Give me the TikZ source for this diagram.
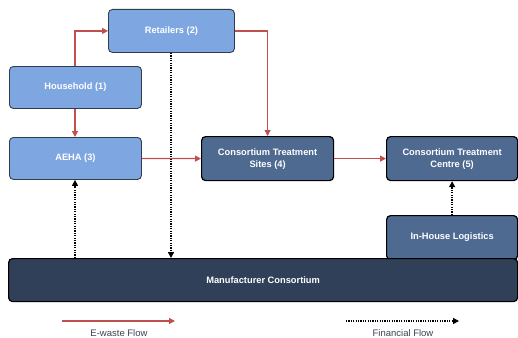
\documentclass[tikz,border=0pt]{standalone}
\usepackage{fontspec}
\setmainfont{Liberation Sans}
\usetikzlibrary{arrows.meta}
\definecolor{lightbox}{HTML}{7EA6E0}
\definecolor{lightedge}{HTML}{2F3D4F}
\definecolor{midbox}{HTML}{4E6A90}
\definecolor{darkbox}{HTML}{2F4058}
\definecolor{flowred}{HTML}{C0504D}
\definecolor{legendgray}{HTML}{3A4250}
\tikzset{
  box/.style={draw, rounded corners=4pt, text=white, font=\fontsize{9.3}{12}\selectfont\bfseries, align=center, inner sep=0pt, anchor=north west},
  lightnode/.style={box, fill=lightbox, draw=lightedge, line width=0.9pt},
  darknode/.style={box, fill=midbox, draw=black, line width=1.2pt},
  basenode/.style={box, fill=darkbox, draw=black, line width=1.2pt},
  ewaste/.style={draw=flowred, line width=1.2pt, -{Triangle[length=6pt,width=6pt,fill=flowred]}},
  money/.style={draw=black, line width=1.4pt, dash pattern=on 1.2pt off 1.2pt, -{Triangle[length=6pt,width=6pt,fill=black]}},
  legendtext/.style={font=\fontsize{9.5}{11}\selectfont, text=legendgray}
}
\begin{document}
\begin{tikzpicture}[x=1pt,y=-1pt]
\useasboundingbox (0,0) rectangle (518,337);
\node[lightnode, minimum width=126pt, minimum height=43pt] (ret) at (108,9) {Retailers (2)};
\node[lightnode, minimum width=132pt, minimum height=42pt] (hh) at (9,66) {Household (1)};
\node[lightnode, minimum width=132pt, minimum height=42pt] (aeha) at (9,137) {AEHA (3)};
\node[darknode, minimum width=132pt, minimum height=44pt] (sites) at (201,136) {Consortium Treatment\\Sites (4)};
\node[darknode, minimum width=131pt, minimum height=44pt] (centre) at (386,136) {Consortium Treatment\\Centre (5)};
\node[darknode, minimum width=131pt, minimum height=44pt] (log) at (386,215) {In-House Logistics};
\node[basenode, minimum width=509pt, minimum height=43pt] (man) at (8,258) {Manufacturer Consortium};
% e-waste flows
\draw[ewaste] (hh.north -| 75,0) |- (ret.west);
\draw[ewaste] (hh.south -| 75,0) -- (aeha.north -| 75,0);
\draw[ewaste] (aeha.east) -- (sites.west);
\draw[ewaste] (ret.east) -| (sites.north);
\draw[ewaste] (sites.east) -- (centre.west);
% financial flows
\draw[money] (ret.south -| 171,0) -- (man.north -| 171,0);
\draw[money] (man.north -| 75,0) -- (aeha.south -| 75,0);
\draw[money] (log.north) -- (centre.south);
% legend
\coordinate (l1a) at (62,321);
\coordinate (l1b) at (175,321);
\coordinate (l2a) at (346,321);
\coordinate (l2b) at (459,321);
\draw[ewaste] (l1a) -- (l1b);
\draw[money] (l2a) -- (l2b);
\node[legendtext] (lt1) at (119,333) {E-waste Flow};
\node[legendtext] (lt2) at (403,333) {Financial Flow};
\end{tikzpicture}
\end{document}
